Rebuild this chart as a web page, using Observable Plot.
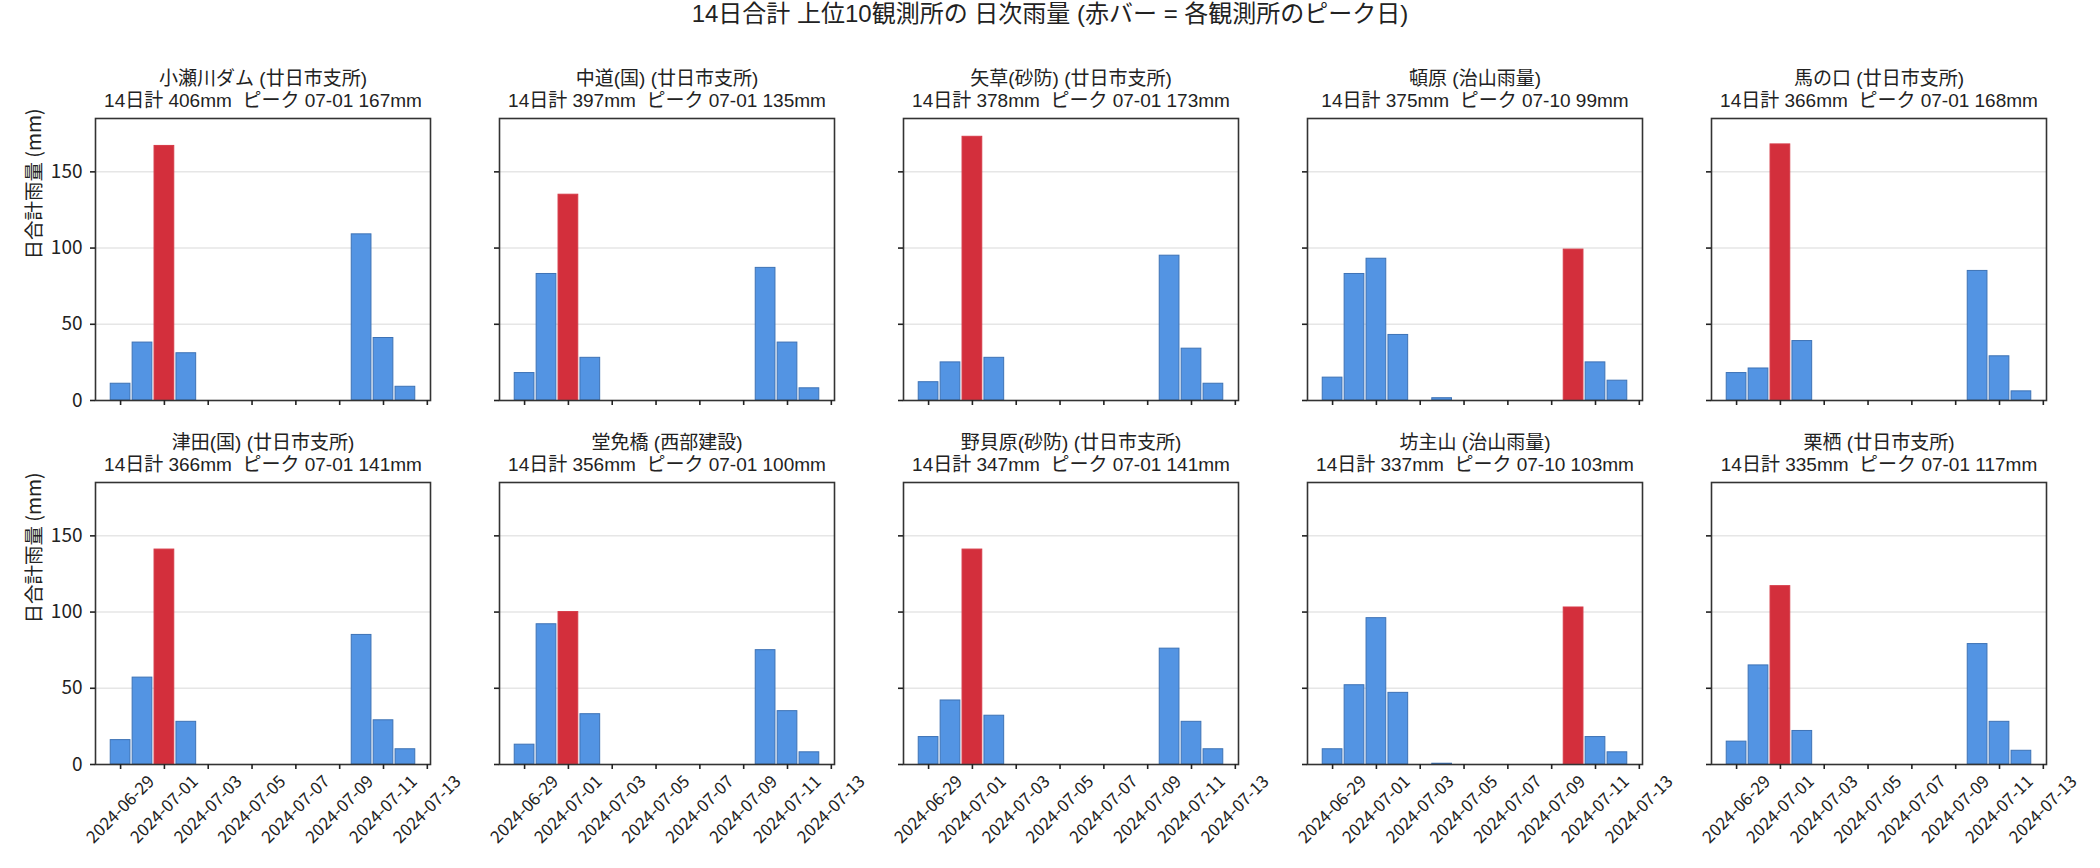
<!DOCTYPE html>
<html>
<head>
<meta charset="utf-8">
<script src="https://cdn.jsdelivr.net/npm/d3@7"></script>
<script src="https://cdn.jsdelivr.net/npm/@observablehq/plot@0.6"></script>
<style>
  body { margin: 0; background: #fff; }
  #fig { position: relative; width: 2100px; height: 868px; font-family: "Noto Sans CJK JP", sans-serif; color: #222; overflow: hidden; }
  #title { position: absolute; left: 0; top: 2px; width: 2100px; text-align: center; font-family: "Liberation Sans", "Noto Sans CJK JP", sans-serif; font-size: 24px; line-height: 24px; white-space: pre; }
  .panel { position: absolute; }
  .panel svg text { white-space: pre; }
</style>
</head>
<body>
<div id="fig">
  <div id="title">14日合計 上位10観測所の 日次雨量 (赤バー = 各観測所のピーク日)</div>
</div>
<script>
// ---- data ----
const dates = ["2024-06-29","2024-06-30","2024-07-01","2024-07-02","2024-07-03","2024-07-04","2024-07-05",
               "2024-07-06","2024-07-07","2024-07-08","2024-07-09","2024-07-10","2024-07-11","2024-07-12"];
const stations = ["小瀬川ダム (廿日市支所)", "中道(国) (廿日市支所)", "矢草(砂防) (廿日市支所)", "頓原 (治山雨量)",
                  "馬の口 (廿日市支所)", "津田(国) (廿日市支所)", "堂免橋 (西部建設)", "野貝原(砂防) (廿日市支所)",
                  "坊主山 (治山雨量)", "栗栖 (廿日市支所)"];
const totals = [406, 397, 378, 375, 366, 366, 356, 347, 337, 335];
const dailyRain = [
  [11, 38, 167, 31, 0, 0,   0, 0, 0, 0, 0, 109, 41, 9],
  [18, 83, 135, 28, 0, 0,   0, 0, 0, 0, 0,  87, 38, 8],
  [12, 25, 173, 28, 0, 0,   0, 0, 0, 0, 0,  95, 34, 11],
  [15, 83,  93, 43, 0, 1.5, 0, 0, 0, 0, 0,  99, 25, 13],
  [18, 21, 168, 39, 0, 0,   0, 0, 0, 0, 0,  85, 29, 6],
  [16, 57, 141, 28, 0, 0,   0, 0, 0, 0, 0,  85, 29, 10],
  [13, 92, 100, 33, 0, 0,   0, 0, 0, 0, 0,  75, 35, 8],
  [18, 42, 141, 32, 0, 0,   0, 0, 0, 0, 0,  76, 28, 10],
  [10, 52,  96, 47, 0, 0.5, 0, 0, 0, 0, 0, 103, 18, 8],
  [15, 65, 117, 22, 0, 0,   0, 0, 0, 0, 0,  79, 28, 9]
];
const tickLabels = ["2024-06-29","2024-07-01","2024-07-03","2024-07-05","2024-07-07","2024-07-09","2024-07-11","2024-07-13"];
const yTicks = [0, 50, 100, 150];
const yLabel = "日合計雨量 (mm)";

// ---- layout / style ----
const FONT = "Noto Sans CJK JP, sans-serif";
const HEAD_FONT = "Liberation Sans, Noto Sans CJK JP, sans-serif";
const BLUE = "#5394e3", BLUE_EDGE = "#3d72b5";
const RED = "#d32f3c", RED_EDGE = "#d63a47";
const FW = 335, FH = 282;
const ML = 95, MR = 15, MT = 60, MB = 100;
const DAY = 864e5;

const parse = s => new Date(s + "T00:00:00Z");
const parsed = dates.map(parse);
const span = (parsed[parsed.length - 1] - parsed[0]) / DAY + 0.9;
const xDomain = [new Date(+parsed[0] - 0.45 * DAY - 0.05 * span * DAY),
                 new Date(+parsed[parsed.length - 1] + 0.45 * DAY + 0.05 * span * DAY)];
const fmtMD = d3.utcFormat("%m-%d");
const fig = document.getElementById("fig");

stations.forEach((name, i) => {
  const row = Math.floor(i / 5), col = i % 5;
  const vals = dailyRain[i];
  const pk = d3.maxIndex(vals);
  const recs = parsed.map((d, j) => ({date: d, value: vals[j], peak: j === pk})).filter(r => r.value > 0);
  const heading = `${name}\n14日計 ${totals[i]}mm  ピーク ${fmtMD(parsed[pk])} ${vals[pk]}mm`;
  const x1 = r => new Date(+r.date - 0.45 * DAY);
  const x2 = r => new Date(+r.date + 0.45 * DAY);
  const marks = [
    Plot.gridY([50, 100, 150], {stroke: "#e6e6e6", strokeOpacity: 1, strokeWidth: 1.5}),
    Plot.rectY(recs.filter(r => !r.peak), {x1, x2, y: "value", fill: BLUE, stroke: BLUE_EDGE, strokeWidth: 1}),
    Plot.rectY(recs.filter(r => r.peak), {x1, x2, y: "value", fill: RED, stroke: RED_EDGE, strokeWidth: 1}),
    Plot.frame({stroke: "#333", strokeWidth: 1.6}),
    Plot.axisY({ticks: yTicks, tickSize: 5, tickPadding: 8, strokeWidth: 1.6, label: null,
                tickFormat: col === 0 ? d => String(d) : () => "", fontSize: 19}),
    Plot.axisX({ticks: tickLabels.map(parse), tickSize: 5, strokeWidth: 1.6, label: null, tickFormat: () => ""}),
    Plot.text([heading], {frameAnchor: "top", dy: -12, lineAnchor: "bottom", lineHeight: 22 / 19,
                          fontSize: 19, fontFamily: HEAD_FONT})
  ];
  if (row === 1) {
    marks.push(Plot.text(tickLabels, {x: parse, frameAnchor: "bottom", dy: 45, rotate: -45,
      textAnchor: "middle", lineAnchor: "middle", fontSize: 17}));
  }
  if (col === 0) {
    marks.push(Plot.text([yLabel], {frameAnchor: "left", dx: -61, rotate: -90, lineAnchor: "middle", fontSize: 19.5}));
  }
  const svg = Plot.plot({
    width: ML + FW + MR, height: MT + FH + MB,
    marginLeft: ML, marginRight: MR, marginTop: MT, marginBottom: MB,
    x: {type: "utc", domain: xDomain},
    y: {domain: [0, 185]},
    style: {background: "transparent", overflow: "visible", fontFamily: FONT, fontSize: "16px", color: "#222"},
    marks
  });
  const div = document.createElement("div");
  div.className = "panel";
  div.style.left = (95 + col * 404 - ML) + "px";
  div.style.top = (117.7 + row * 364 - MT) + "px";
  div.appendChild(svg);
  fig.appendChild(div);
});
</script>
</body>
</html>
